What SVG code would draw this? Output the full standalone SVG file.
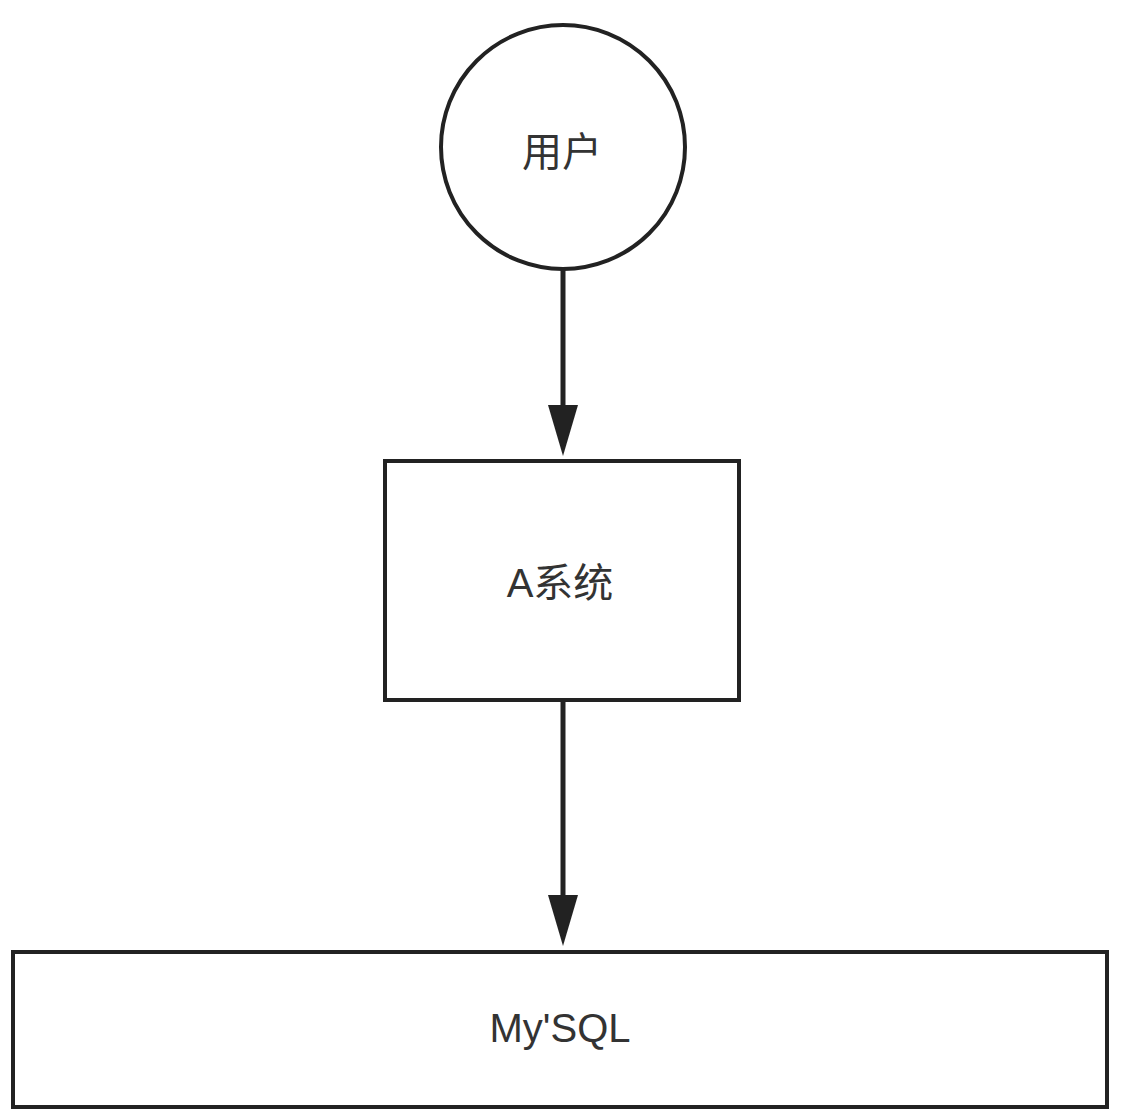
<svg xmlns="http://www.w3.org/2000/svg" width="1122" height="1120" viewBox="0 0 1122 1120">
<style>
.n{fill:#fff;stroke:#222;stroke-width:4}
.t{font-family:"Liberation Sans","Noto Sans CJK SC",sans-serif;font-size:40px;fill:#333;text-anchor:middle;dominant-baseline:central}
.c{stroke:#222;stroke-width:5;fill:none}
.h{fill:#222}
</style>
<rect width="1122" height="1120" fill="#fff"/>
<g id="connectors">
<line class="c" x1="563" y1="268" x2="563" y2="405"/>
<path class="h" d="M548,405 L578,405 L563,456 Z"/>
<line class="c" x1="563" y1="700" x2="563" y2="895"/>
<path class="h" d="M548,895 L578,895 L563,946 Z"/>
</g>
<g id="user"><circle class="n" cx="563" cy="147" r="122"/><text class="t" x="562" y="152">用户</text></g>
<g id="a-system"><rect class="n" x="385" y="461" width="354" height="239"/><text class="t" x="560" y="583">A系统</text></g>
<g id="mysql"><rect class="n" x="13" y="952" width="1094" height="155"/><text class="t" x="560" y="1028">My'SQL</text></g>
</svg>
